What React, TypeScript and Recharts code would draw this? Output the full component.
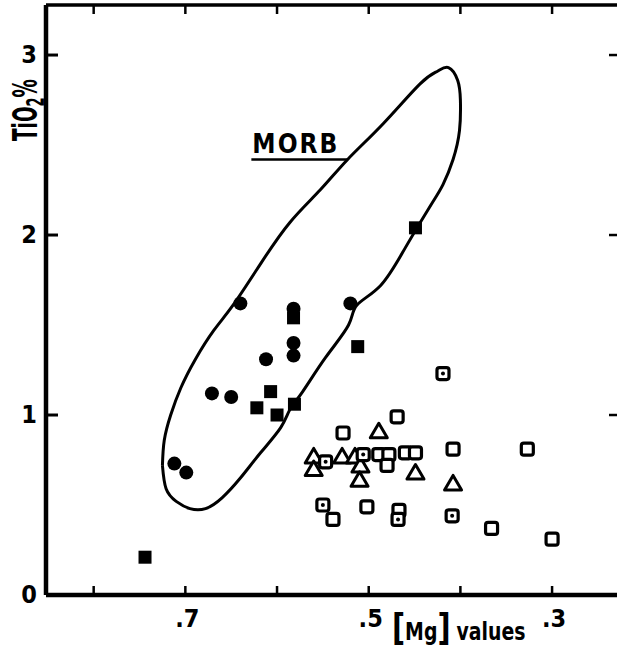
import { ReferenceDot, ReferenceLine, Scatter, ScatterChart, XAxis, YAxis } from "recharts";

type Pt = { mg: number; ti: number };

const FONT = "'Liberation Sans Narrow', 'DejaVu Sans Condensed', 'Liberation Sans', Arial, sans-serif";

// MORB field outline, traced clockwise from the leftmost point
const morbField: Pt[] = [
  { mg: 0.725, ti: 0.72 }, { mg: 0.723, ti: 0.86 }, { mg: 0.716, ti: 1.0 }, { mg: 0.705, ti: 1.15 },
  { mg: 0.689, ti: 1.31 }, { mg: 0.669, ti: 1.47 }, { mg: 0.648, ti: 1.61 }, { mg: 0.618, ti: 1.84 },
  { mg: 0.586, ti: 2.07 }, { mg: 0.553, ti: 2.25 }, { mg: 0.523, ti: 2.42 }, { mg: 0.484, ti: 2.62 },
  { mg: 0.444, ti: 2.84 }, { mg: 0.425, ti: 2.91 }, { mg: 0.413, ti: 2.93 }, { mg: 0.403, ti: 2.86 },
  { mg: 0.4, ti: 2.75 }, { mg: 0.401, ti: 2.58 }, { mg: 0.408, ti: 2.42 }, { mg: 0.419, ti: 2.28 },
  { mg: 0.433, ti: 2.16 }, { mg: 0.46, ti: 1.93 }, { mg: 0.487, ti: 1.72 }, { mg: 0.513, ti: 1.61 },
  { mg: 0.522, ti: 1.5 }, { mg: 0.547, ti: 1.32 }, { mg: 0.572, ti: 1.13 }, { mg: 0.586, ti: 1.03 },
  { mg: 0.596, ti: 0.93 }, { mg: 0.618, ti: 0.79 }, { mg: 0.64, ti: 0.65 }, { mg: 0.66, ti: 0.54 },
  { mg: 0.678, ti: 0.48 }, { mg: 0.695, ti: 0.48 }, { mg: 0.71, ti: 0.52 }, { mg: 0.721, ti: 0.59 },
  { mg: 0.725, ti: 0.72 },
];

const filledCircles: Pt[] = [
  { mg: 0.712, ti: 0.73 }, { mg: 0.699, ti: 0.68 }, { mg: 0.671, ti: 1.12 }, { mg: 0.65, ti: 1.1 },
  { mg: 0.64, ti: 1.62 }, { mg: 0.612, ti: 1.31 }, { mg: 0.582, ti: 1.59 }, { mg: 0.582, ti: 1.4 },
  { mg: 0.582, ti: 1.33 }, { mg: 0.52, ti: 1.62 },
];

const filledSquares: Pt[] = [
  { mg: 0.744, ti: 0.21 }, { mg: 0.622, ti: 1.04 }, { mg: 0.607, ti: 1.13 }, { mg: 0.6, ti: 1.0 },
  { mg: 0.581, ti: 1.06 }, { mg: 0.582, ti: 1.54 }, { mg: 0.512, ti: 1.38 }, { mg: 0.449, ti: 2.04 },
];

const openSquares: Pt[] = [
  { mg: 0.528, ti: 0.9 }, { mg: 0.469, ti: 0.99 }, { mg: 0.489, ti: 0.78 }, { mg: 0.478, ti: 0.78 },
  { mg: 0.48, ti: 0.72 }, { mg: 0.46, ti: 0.79 }, { mg: 0.449, ti: 0.79 }, { mg: 0.408, ti: 0.81 },
  { mg: 0.327, ti: 0.81 }, { mg: 0.539, ti: 0.42 }, { mg: 0.502, ti: 0.49 }, { mg: 0.467, ti: 0.47 },
  { mg: 0.366, ti: 0.37 }, { mg: 0.3, ti: 0.31 },
];

const dottedSquares: Pt[] = [
  { mg: 0.547, ti: 0.74 }, { mg: 0.506, ti: 0.78 }, { mg: 0.55, ti: 0.5 }, { mg: 0.468, ti: 0.42 },
  { mg: 0.409, ti: 0.44 }, { mg: 0.419, ti: 1.23 },
];

const openTriangles: Pt[] = [
  { mg: 0.56, ti: 0.77 }, { mg: 0.56, ti: 0.7 }, { mg: 0.529, ti: 0.77 }, { mg: 0.515, ti: 0.77 },
  { mg: 0.509, ti: 0.72 }, { mg: 0.51, ti: 0.64 }, { mg: 0.489, ti: 0.91 }, { mg: 0.449, ti: 0.68 },
  { mg: 0.408, ti: 0.62 },
];

const xTicks = [0.3, 0.4, 0.5, 0.6, 0.7, 0.8];
const xLabels = [0.3, 0.5, 0.7];
const yTicks = [0, 1, 2, 3];

const fmtMg = (v: number) => "." + Math.round(v * 10);

const FilledCircle = ({ cx, cy }: any) => <circle cx={cx} cy={cy} r={7} fill="#000" />;
const FilledSquare = ({ cx, cy }: any) => <rect x={cx - 6.5} y={cy - 6.5} width={13} height={13} fill="#000" />;
const OpenSquare = ({ cx, cy }: any) => (
  <rect x={cx - 6} y={cy - 6} width={12} height={12} rx={2.5} fill="#fff" stroke="#000" strokeWidth={3.2} />
);
const DottedSquare = ({ cx, cy }: any) => (
  <g>
    <rect x={cx - 6} y={cy - 6} width={12} height={12} rx={2.5} fill="#fff" stroke="#000" strokeWidth={3.2} />
    <circle cx={cx} cy={cy} r={2} fill="#000" />
  </g>
);
const OpenTriangle = ({ cx, cy }: any) => (
  <path
    d={`M${cx},${cy - 8}L${cx + 8.5},${cy + 6.5}L${cx - 8.5},${cy + 6.5}Z`}
    fill="#fff"
    stroke="#000"
    strokeWidth={3}
    strokeLinejoin="round"
  />
);

const LeftTick = ({ x, y, payload }: any) => (
  <g>
    <line x1={x} x2={x + 12} y1={y} y2={y} stroke="#000" strokeWidth={3} />
    <text x={x - 9} y={y + 8} textAnchor="end" fontFamily={FONT} fontWeight="bold" fontSize={25} fill="#000">
      {payload.value}
    </text>
  </g>
);

const RightTick = ({ x, y }: any) => <line x1={x - 10} x2={x} y1={y} y2={y} stroke="#000" strokeWidth={2.5} />;

const BottomTick = ({ x, y, payload }: any) => (
  <g>
    <line x1={x} x2={x} y1={y} y2={y - 9} stroke="#000" strokeWidth={2.5} />
    {xLabels.some((v) => Math.abs(v - payload.value) < 1e-6) && (
      <text x={x + 2} y={y + 32} textAnchor="middle" fontFamily={FONT} fontWeight="bold" fontSize={25} fill="#000">
        {fmtMg(payload.value)}
      </text>
    )}
  </g>
);

const TopTick = ({ x, y }: any) => <line x1={x} x2={x} y1={y} y2={y + 9} stroke="#000" strokeWidth={2.5} />;

// condensed look: squeeze the titles along the text direction
const XTitle = ({ viewBox }: any) => (
  <g transform={`translate(${viewBox.x + 346}, ${viewBox.y + 45}) scale(0.84, 1)`}>
    <text x={0} y={0} fontFamily={FONT} fontWeight="bold" fontSize={25} fill="#000">
      <tspan fontSize={38}>[</tspan>
      <tspan>Mg</tspan>
      <tspan fontSize={38}>]</tspan>
      <tspan dx={7}>values</tspan>
    </text>
  </g>
);

const YTitle = () => (
  <g transform="translate(37, 110) rotate(-90) scale(0.6, 1)">
    <text x={0} y={0} textAnchor="middle" fontFamily={FONT} fontWeight="bold" fontSize={34} fill="#000">
      TiO
      <tspan dy={7} fontSize={24}>2</tspan>
      <tspan dy={-7}>%</tspan>
    </text>
  </g>
);

const MorbText = ({ cx, cy }: any) => (
  <text x={cx + 1} y={cy - 6} fontFamily={FONT} fontWeight="bold" fontSize={26} letterSpacing={2} fill="#000">
    MORB
  </text>
);

export default function App() {
  return (
    <div style={{ position: "absolute", left: 0, top: 0, width: 617, height: 655, overflow: "hidden", background: "#fff" }}>
      <ScatterChart width={640} height={655} margin={{ top: 0, right: 0, bottom: 0, left: 0 }}>
        <XAxis
          xAxisId="b"
          type="number"
          dataKey="mg"
          reversed
          domain={[0.227, 0.852]}
          allowDataOverflow
          ticks={xTicks}
          interval={0}
          height={60}
          tickSize={0}
          tickMargin={0}
          tickLine={false}
          tick={<BottomTick />}
          axisLine={{ stroke: "#000", strokeWidth: 4.5 }}
          label={{ content: <XTitle /> }}
        />
        <XAxis
          xAxisId="t"
          orientation="top"
          type="number"
          dataKey="mg"
          reversed
          domain={[0.227, 0.852]}
          allowDataOverflow
          ticks={xTicks}
          interval={0}
          height={5}
          tickSize={0}
          tickMargin={0}
          tickLine={false}
          tick={<TopTick />}
          axisLine={{ stroke: "#000", strokeWidth: 3.5 }}
        />
        <YAxis
          yAxisId="l"
          type="number"
          dataKey="ti"
          domain={[0, 3.278]}
          allowDataOverflow
          ticks={yTicks}
          interval={0}
          width={46}
          tickSize={0}
          tickMargin={0}
          tickLine={false}
          tick={<LeftTick />}
          axisLine={{ stroke: "#000", strokeWidth: 4.5 }}
          label={{ content: <YTitle /> }}
        />
        <YAxis
          yAxisId="r"
          orientation="right"
          type="number"
          dataKey="ti"
          domain={[0, 3.278]}
          allowDataOverflow
          ticks={yTicks}
          interval={0}
          width={21}
          tickSize={0}
          tickMargin={0}
          tickLine={false}
          tick={<RightTick />}
          axisLine={false}
        />
        <Scatter
          xAxisId="b"
          yAxisId="l"
          data={morbField}
          line={{ stroke: "#000", strokeWidth: 3 }}
          lineJointType="natural"
          shape={() => <g />}
          isAnimationActive={false}
        />
        <ReferenceLine
          xAxisId="b"
          yAxisId="l"
          segment={[{ x: 0.628, y: 2.42 }, { x: 0.523, y: 2.42 }]}
          stroke="#000"
          strokeWidth={2.5}
        />
        <ReferenceDot xAxisId="b" yAxisId="l" x={0.628} y={2.42} r={0} shape={<MorbText />} />
        <Scatter xAxisId="b" yAxisId="l" data={filledCircles} shape={<FilledCircle />} isAnimationActive={false} />
        <Scatter xAxisId="b" yAxisId="l" data={filledSquares} shape={<FilledSquare />} isAnimationActive={false} />
        <Scatter xAxisId="b" yAxisId="l" data={openTriangles} shape={<OpenTriangle />} isAnimationActive={false} />
        <Scatter xAxisId="b" yAxisId="l" data={openSquares} shape={<OpenSquare />} isAnimationActive={false} />
        <Scatter xAxisId="b" yAxisId="l" data={dottedSquares} shape={<DottedSquare />} isAnimationActive={false} />
      </ScatterChart>
    </div>
  );
}
